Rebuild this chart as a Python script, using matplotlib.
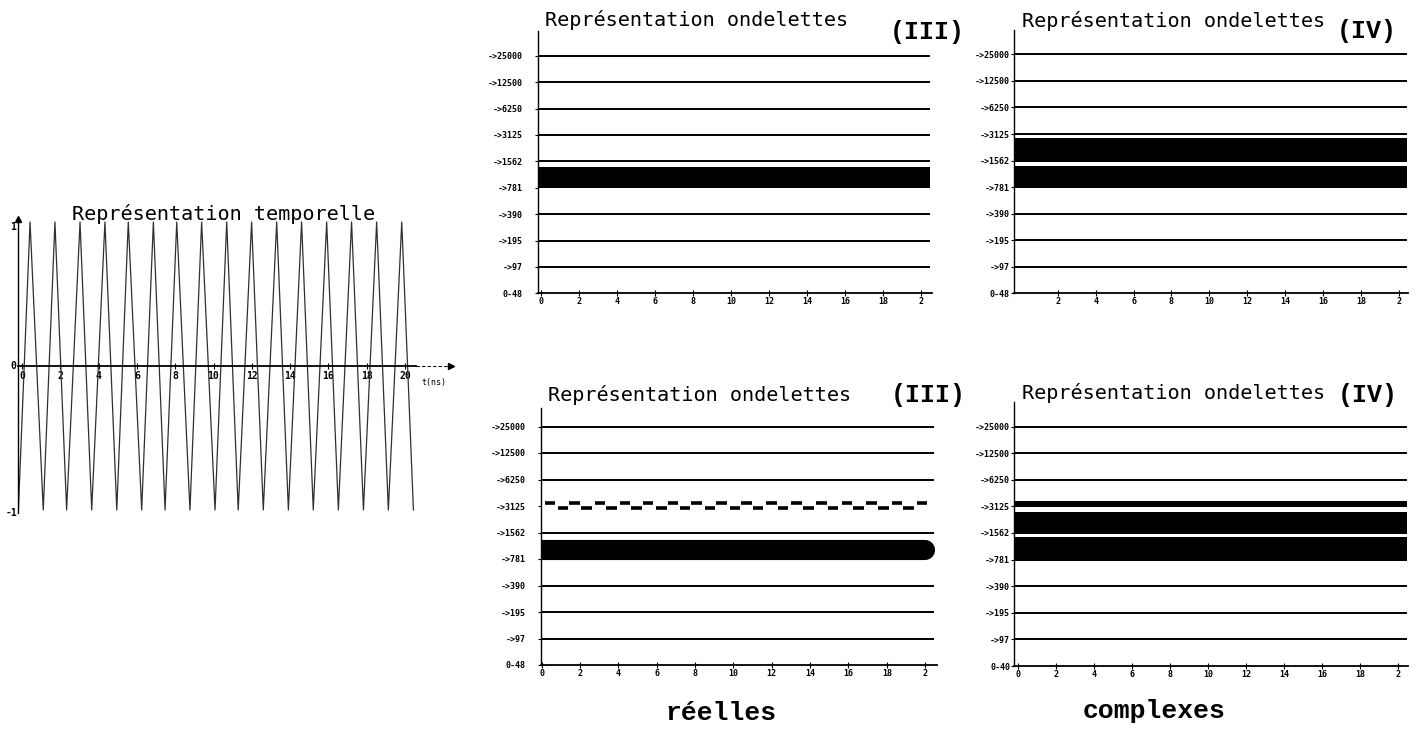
#!/usr/bin/python
# Temporal signal and wavelet representations (real / complex wavelets).

import numpy as np
import matplotlib
matplotlib.use("Agg")
import matplotlib.pyplot as pl

W, H = 1423, 729

# signal extrema (ns)
peak_t = [0.42, 1.72, 3.03, 4.33, 5.55, 6.86, 8.08, 9.38, 10.69, 11.99,
          13.30, 14.60, 15.91, 17.21, 18.52, 19.83]
trough_t = [-0.19, 1.11, 2.33, 3.64, 4.95, 6.25, 7.47, 8.77, 10.08, 11.29,
            12.60, 13.91, 15.21, 16.52, 17.83, 19.13, 20.44]
time_ticks = [0, 2, 4, 6, 8, 10, 12, 14, 16, 18, 20]
time_labels = ["0", "2", "4", "6", "8", "10", "12", "14", "16", "18", "20"]
wav_labels = ["0", "2", "4", "6", "8", "10", "12", "14", "16", "18", "2"]

# frequency bands (MHz), bottom to top
scale_labels = ["0-48", "->97", "->195", "->390", "->781", "->1562",
                "->3125", "->6250", "->12500", "->25000"]
scale_labels_br = ["0-40"] + scale_labels[1:]

# band lines still visible, and black energy bands (level units)
lines_top3 = [1, 2, 3, 5, 6, 7, 8, 9]
bands_top3 = [(3.99, 4.80)]
lines_top4 = [1, 2, 3, 6, 7, 8, 9]
bands_top4 = [(4.94, 5.84), (3.95, 4.80)]
lines_bot3 = [1, 2, 3, 5, 7, 8, 9]
bands_bot3 = [(3.96, 4.72)]
dash_up, dash_down = 6.10, 5.91
lines_bot4 = [1, 2, 3, 7, 8, 9]
bands_bot4 = [(5.98, 6.20), (4.96, 5.80), (3.95, 4.86)]

fig = pl.figure(figsize=(W / 100.0, H / 100.0), dpi=100)
fig.patch.set_facecolor("white")

mono = "DejaVu Sans Mono"
courier = "Liberation Mono"


def ptext(x, y, s, **kw):
    fig.text(x / float(W), 1 - y / float(H), s, **kw)


def add_px_axes(ox, oy, sx, sy, xl, yl):
    left = ox + xl[0] * sx
    right = ox + xl[1] * sx
    top = oy - yl[1] * sy
    bot = oy - yl[0] * sy
    ax = fig.add_axes([left / W, 1 - bot / H, (right - left) / W, (bot - top) / H])
    ax.set_xlim(xl)
    ax.set_ylim(yl)
    ax.patch.set_alpha(0)
    return ax


# temporal plot {{{
ax0 = add_px_axes(22, 366, 19.15, 144, (-0.21, 22.6), (-1.06, 1.1))
t_ext = sorted(peak_t + trough_t)
y_ext = [1.0 if t in peak_t else -1.0 for t in t_ext]
ax0.plot(t_ext, y_ext, color="#303030", lw=0.9)
for s in ["top", "right"]:
    ax0.spines[s].set_visible(False)
ax0.spines["bottom"].set_position(("data", 0))
ax0.spines["bottom"].set_bounds(-0.21, 20.6)
ax0.spines["left"].set_bounds(-1.02, 1.02)
ax0.spines["bottom"].set_linewidth(1.3)
ax0.spines["left"].set_linewidth(1.0)
ax0.plot([20.6, 22.35], [0, 0], color="k", lw=0.8, ls=(0, (3, 2)))
ax0.plot(22.4, 0, marker=">", color="k", ms=4)
ax0.plot(-0.21, 1.02, marker="^", color="k", ms=4, clip_on=False)
ax0.set_xticks(time_ticks)
ax0.set_xticklabels(time_labels, fontsize=7, family=mono, fontweight="bold")
ax0.tick_params(axis="x", direction="inout", length=5, width=0.8, pad=1)
ax0.set_yticks([])
ptext(16, 366, "0", fontsize=7, family=mono, ha="right", va="center", fontweight="bold")
ptext(16, 227, "1", fontsize=7, family=mono, ha="right", va="center", fontweight="bold")
ptext(17, 513, "-1", fontsize=7, family=mono, ha="right", va="center", fontweight="bold")
ptext(434, 382, "t(ns)", fontsize=6, family=mono, ha="center", va="center")
ptext(72, 220, "Représentation temporelle", fontsize=14.5, family=mono,
      ha="left", va="baseline")
# }}}


def wavelet_panel(ox, oy, sx, sy, xl, ytop, lines, bands, ylabels, ticks, tlabels, gap):
    ax = add_px_axes(ox, oy, sx, sy, xl, (0, ytop))
    x_end = 20.45
    ax.hlines(lines, xl[0], x_end, color="k", lw=1.4)
    for lo, hi in bands:
        ax.fill_between([xl[0], x_end], lo, hi, color="k", lw=0)
    for s in ["top", "right"]:
        ax.spines[s].set_visible(False)
    ax.spines["left"].set_linewidth(1.0)
    ax.spines["bottom"].set_linewidth(1.3)
    ax.set_yticks(range(len(ylabels)))
    ax.set_yticklabels(ylabels, fontsize=6, family=mono, fontweight="bold")
    ax.tick_params(axis="y", direction="out", length=2, width=0.8, pad=gap)
    ax.set_xticks(ticks)
    ax.set_xticklabels(tlabels, fontsize=6, family=mono, fontweight="bold")
    ax.tick_params(axis="x", direction="inout", length=4, width=0.8, pad=1)
    return ax


# top, real wavelets (III)
ax1 = wavelet_panel(541, 293.3, 19.0, 26.4, (-0.15, 20.6), 9.95, lines_top3,
                    bands_top3, scale_labels, time_ticks, wav_labels, 9)
ptext(545, 26.5, "Représentation ondelettes", fontsize=14.5, family=mono,
      ha="left", va="baseline")
ptext(927, 39, "(III)", fontsize=18, family=courier, fontweight="bold",
      ha="center", va="baseline")

# top, complex wavelets (IV)
ax2 = wavelet_panel(1019.8, 293.3, 18.95, 26.55, (-0.3, 20.5), 9.9, lines_top4,
                    bands_top4, scale_labels, time_ticks[1:], wav_labels[1:], 1)
ptext(1022, 27.3, "Représentation ondelettes", fontsize=14.5, family=mono,
      ha="left", va="baseline")
ptext(1367, 37.7, "(IV)", fontsize=18, family=courier, fontweight="bold",
      ha="center", va="baseline")

# bottom, real wavelets (III)
ax3 = wavelet_panel(541.7, 665, 19.17, 26.5, (-0.05, 20.6), 9.7, lines_bot3,
                    [], scale_labels, time_ticks, wav_labels, 9)
for lo, hi in bands_bot3:
    ax3.plot([0, 19.98], [(lo + hi) / 2] * 2, color="k",
             lw=(hi - lo) * 26.5 * 0.72, solid_capstyle="round")
ax3.hlines([dash_up] * len(peak_t), np.array(peak_t) - 0.27, np.array(peak_t) + 0.27,
           color="k", lw=2.6)
tr = np.array(trough_t[1:-1])
ax3.hlines([dash_down] * len(tr), tr - 0.27, tr + 0.27, color="k", lw=2.6)
ptext(548, 400.7, "Représentation ondelettes", fontsize=14.5, family=mono,
      ha="left", va="baseline")
ptext(928, 401.7, "(III)", fontsize=18, family=courier, fontweight="bold",
      ha="center", va="baseline")

# bottom, complex wavelets (IV)
ax4 = wavelet_panel(1018, 666, 19.0, 26.6, (-0.2, 20.5), 9.93, lines_bot4,
                    bands_bot4, scale_labels_br, time_ticks, wav_labels, 1)
ptext(1022, 399.3, "Représentation ondelettes", fontsize=14.5, family=mono,
      ha="left", va="baseline")
ptext(1368, 401.7, "(IV)", fontsize=18, family=courier, fontweight="bold",
      ha="center", va="baseline")

ptext(721, 720, "réelles", fontsize=19, family=courier, fontweight="bold",
      ha="center", va="baseline")
ptext(1154, 718.3, "complexes", fontsize=19, family=courier, fontweight="bold",
      ha="center", va="baseline")

pl.savefig("out.png", dpi=100)
